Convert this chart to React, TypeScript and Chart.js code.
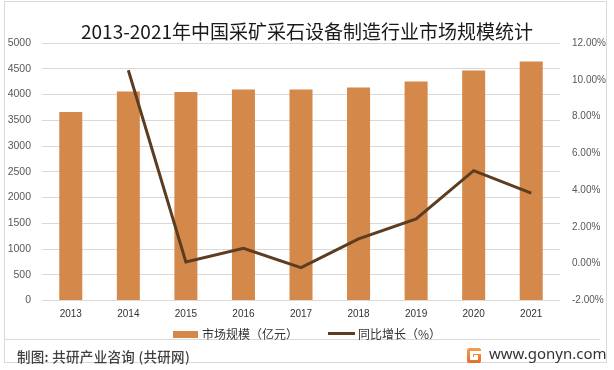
import React, { useEffect, useRef } from "react";
import { Chart, registerables } from "chart.js";

Chart.register(...registerables);

const years = ["2013", "2014", "2015", "2016", "2017", "2018", "2019", "2020", "2021"];
const marketSize = [3660, 4056, 4050, 4095, 4095, 4134, 4251, 4465, 4640];
const growthRate = [null, 10.52, 0.1, 0.84, -0.21, 1.35, 2.44, 5.06, 3.84];

const TITLE = "2013-2021年中国采矿采石设备制造行业市场规模统计";
const LEGEND_BAR = "市场规模（亿元）";
const LEGEND_LINE = "同比增长（%）";
const SOURCE = "制图: 共研产业咨询 (共研网)";
const SITE = "www.gonyn.com";

const BAR_COLOR = "#D4894A";
const LINE_COLOR = "#5C3D22";
const CJK = '"Noto Sans CJK SC", "Noto Sans", sans-serif';
const TICK_FONT = '"Liberation Sans", "Noto Sans", sans-serif';

export default function App() {
  const ref = useRef<HTMLCanvasElement | null>(null);

  useEffect(() => {
    document.body.style.margin = "0";
    const canvas = ref.current;
    if (!canvas) return;
    const chart = new Chart(canvas, {
      type: "bar",
      data: {
        labels: years,
        datasets: [
          {
            type: "bar",
            label: LEGEND_BAR,
            data: marketSize,
            backgroundColor: BAR_COLOR,
            yAxisID: "y",
            categoryPercentage: 1,
            barPercentage: 0.4,
            order: 2,
          },
          {
            type: "line",
            label: LEGEND_LINE,
            data: growthRate as any,
            borderColor: LINE_COLOR,
            backgroundColor: LINE_COLOR,
            borderWidth: 3,
            pointRadius: 0,
            tension: 0,
            yAxisID: "y1",
            order: 1,
          },
        ],
      },
      options: {
        responsive: false,
        animation: false,
        layout: { padding: { left: 0, right: 0, top: 43, bottom: 0 } },
        plugins: {
          legend: { display: false },
          title: { display: false },
          tooltip: { enabled: false },
        },
        scales: {
          x: {
            grid: { display: false, drawTicks: false },
            border: { display: false },
            ticks: { color: "#333333", font: { family: TICK_FONT, size: 10 }, padding: 8 },
            afterFit: (s: any) => {
              s.height = 69.5;
            },
          },
          y: {
            position: "left",
            min: 0,
            max: 5000,
            grid: { color: "#d9d9d9", drawTicks: false, lineWidth: 1 },
            border: { display: false },
            ticks: {
              stepSize: 500,
              color: "#595959",
              font: { family: TICK_FONT, size: 10.5 },
              padding: 11,
              callback: (v: any) => String(v),
            },
            afterFit: (s: any) => {
              s.width = 42;
            },
          },
          y1: {
            position: "right",
            min: -2,
            max: 12,
            grid: { display: false, drawTicks: false },
            border: { display: false },
            ticks: {
              stepSize: 2,
              color: "#595959",
              font: { family: TICK_FONT, size: 10 },
              padding: 12,
              callback: (v: any) => Number(v).toFixed(2) + "%",
            },
            afterFit: (s: any) => {
              s.width = 54;
            },
          },
        },
      },
    });
    return () => chart.destroy();
  }, []);

  return (
    <div
      style={{
        position: "absolute",
        left: 0,
        top: 0,
        width: 614,
        height: 370,
        background: "#ffffff",
        overflow: "hidden",
      }}
    >
      <div
        style={{
          position: "absolute",
          left: 4,
          top: 1,
          width: 603,
          height: 362,
          border: "1px solid #d9d9d9",
          boxSizing: "border-box",
        }}
      />
      <div
        style={{
          position: "absolute",
          left: 4,
          top: 339,
          width: 596,
          height: 0,
          borderTop: "1px solid #d9d9d9",
        }}
      />
      <canvas ref={ref} width={614} height={370} style={{ position: "absolute", left: 0, top: 0 }} />
      <div
        style={{
          position: "absolute",
          left: 0,
          top: 18,
          width: 614,
          textAlign: "center",
          fontFamily: CJK,
          fontSize: 19,
          lineHeight: "26px",
          color: "#1a1a1a",
          whiteSpace: "nowrap",
        }}
      >
        {TITLE}
      </div>
      <div style={{ position: "absolute", left: 173, top: 331, width: 25, height: 7, background: BAR_COLOR }} />
      <div
        style={{
          position: "absolute",
          left: 202,
          top: 325,
          fontFamily: CJK,
          fontSize: 12,
          lineHeight: "18px",
          color: "#333333",
          whiteSpace: "nowrap",
        }}
      >
        {LEGEND_BAR}
      </div>
      <div style={{ position: "absolute", left: 328, top: 332, width: 27, height: 3, background: LINE_COLOR }} />
      <div
        style={{
          position: "absolute",
          left: 358,
          top: 325,
          fontFamily: CJK,
          fontSize: 12,
          lineHeight: "18px",
          color: "#333333",
          whiteSpace: "nowrap",
        }}
      >
        {LEGEND_LINE}
      </div>
      <div
        style={{
          position: "absolute",
          left: 17,
          top: 346,
          fontFamily: CJK,
          fontSize: 13.5,
          fontWeight: 500,
          lineHeight: "20px",
          color: "#404040",
          whiteSpace: "nowrap",
          letterSpacing: 0.3,
        }}
      >
        {SOURCE}
      </div>
      <div
        style={{
          position: "absolute",
          left: 467,
          top: 348,
          width: 14,
          height: 15,
          borderRadius: 2,
          background: "linear-gradient(180deg, #F5A04A, #E86A2C)",
        }}
      >
        <div style={{ position: "absolute", left: 3, top: 3, width: 11, height: 3, background: "#fff" }} />
        <div style={{ position: "absolute", left: 3, top: 6, width: 3, height: 6, background: "#fff" }} />
        <div style={{ position: "absolute", left: 6, top: 9, width: 5, height: 3, background: "#fff" }} />
        <div style={{ position: "absolute", left: 7, top: 7, width: 4, height: 2, background: "#fff" }} />
      </div>
      <div
        style={{
          position: "absolute",
          left: 489,
          top: 343,
          fontFamily: '"Noto Sans", sans-serif',
          fontSize: 15,
          lineHeight: "20px",
          color: "#333333",
          whiteSpace: "nowrap",
        }}
      >
        {SITE}
      </div>
    </div>
  );
}
